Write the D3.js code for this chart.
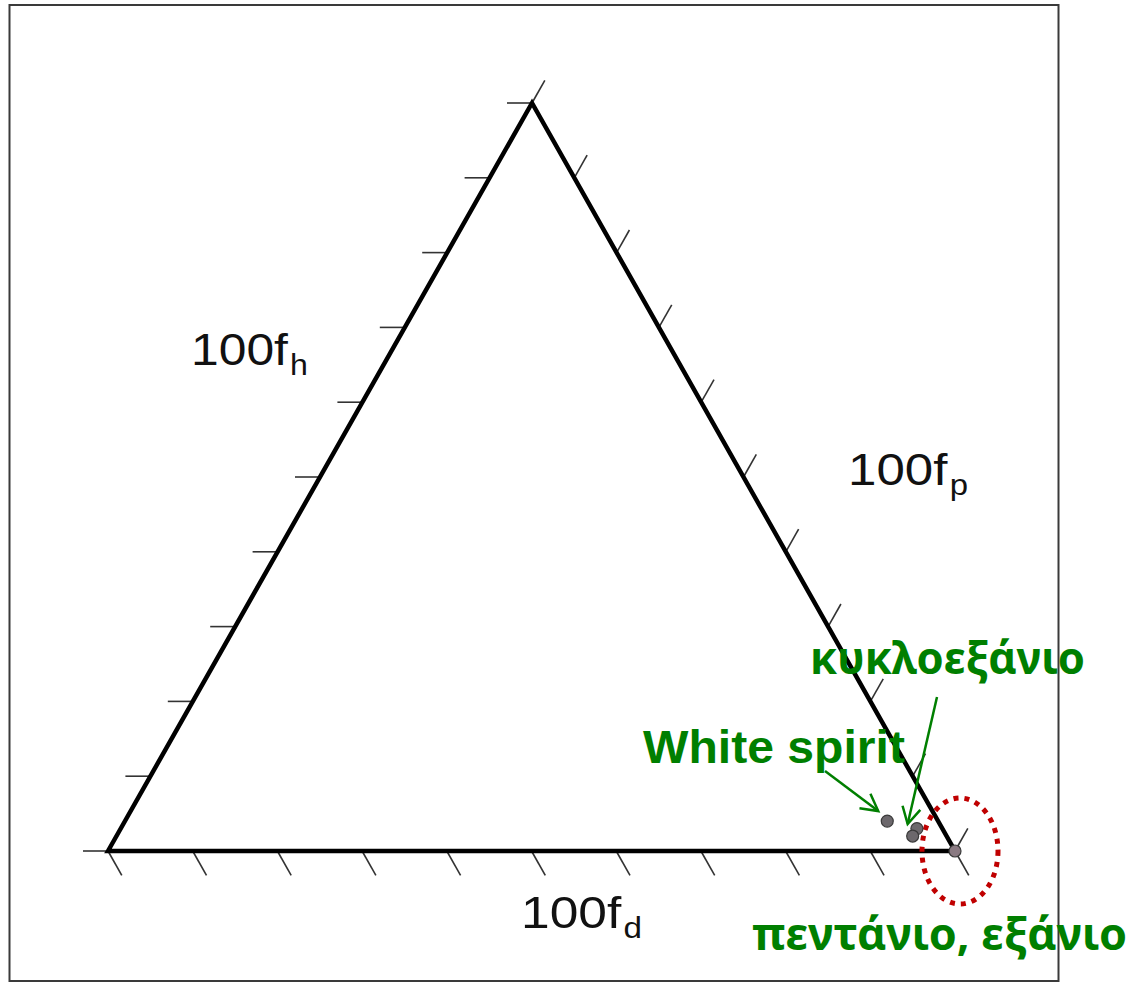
<!DOCTYPE html>
<html>
<head>
<meta charset="utf-8">
<script src="https://cdn.jsdelivr.net/npm/d3@7"></script>
<style>
  html, body { margin: 0; padding: 0; background: #fff; }
  svg { display: block; }
</style>
</head>
<body>
<svg id="chart" width="1137" height="983"></svg>
<script>
// Solvent positions in the fd / fp / fh triangle (percent)
const solvents = ["White spirit", "κυκλοεξάνιο", "κυκλοεξάνιο", "πεντάνιο, εξάνιο"];
const fdValues = [90, 94, 94, 100];
const fpValues = [6, 3, 4, 0];
const fhValues = [4, 3, 2, 0];

// Axis names and tick values (every 10 %)
const axisNames = ["d", "p", "h"];
const tickValues = d3.range(0, 101, 10);

// Annotation labels and the solvent each arrow points to
const labelTexts = ["White spirit", "κυκλοεξάνιο", "πεντάνιο, εξάνιο"];
const labelTargets = [0, 2, 3];

const svg = d3.select("#chart");

// Triangle corners: fp = 100 bottom-left, fh = 100 top, fd = 100 bottom-right
const P = [108, 851], Hc = [532, 103], D = [955, 851];

// Ternary projection built on a linear percent scale
const frac = d3.scaleLinear().domain([0, 100]).range([0, 1]);
function project(fd, fp, fh) {
  const a = frac(fd), b = frac(fp), c = frac(fh);
  return [a * D[0] + b * P[0] + c * Hc[0], a * D[1] + b * P[1] + c * Hc[1]];
}

// outer frame
svg.append("rect")
  .attr("x", 9.5).attr("y", 5).attr("width", 1049).attr("height", 976)
  .attr("fill", "#fff").attr("stroke", "#3a3a3a").attr("stroke-width", 2);

const g = svg.append("g");

// Ticks along each edge
const unit = (p, q) => { const dx = q[0] - p[0], dy = q[1] - p[1], l = Math.hypot(dx, dy); return [dx / l, dy / l]; };
const dirBottom = unit(Hc, D);   // bottom ticks parallel to right edge
const dirRight = unit(P, Hc);    // right ticks parallel to left edge
const dirLeft = [-1, 0];         // left ticks horizontal

const tickSets = [
  { vals: tickValues, pos: v => project(v, 100 - v, 0), dir: dirBottom, len: 28 },
  { vals: tickValues, pos: v => project(100 - v, 0, v), dir: dirRight, len: 26 },
  { vals: tickValues, pos: v => project(0, 100 - v, v), dir: dirLeft, len: 25 }
];
tickSets.forEach(ts => {
  g.append("g").selectAll("line").data(ts.vals).join("line")
    .attr("x1", d => ts.pos(d)[0])
    .attr("y1", d => ts.pos(d)[1])
    .attr("x2", d => ts.pos(d)[0] + ts.dir[0] * ts.len)
    .attr("y2", d => ts.pos(d)[1] + ts.dir[1] * ts.len)
    .attr("stroke", "#333").attr("stroke-width", 1.6);
});

// Triangle outline
g.append("path")
  .attr("d", d3.line()([P, Hc, D, P]) + "Z")
  .attr("fill", "none").attr("stroke", "#000").attr("stroke-width", 4.5)
  .attr("stroke-linejoin", "miter");

// Axis titles 100f_x
const titlePos = [[521, 928], [848, 485], [191, 365]];
const titleWidths = [121, 120, 117];
axisNames.forEach((n, i) => {
  const t = g.append("text")
    .attr("x", titlePos[i][0]).attr("y", titlePos[i][1])
    .attr("font-family", "'Liberation Sans', Arial, sans-serif")
    .attr("font-size", 45).attr("fill", "#111")
    .attr("textLength", titleWidths[i]).attr("lengthAdjust", "spacingAndGlyphs");
  t.append("tspan").text("100f");
  t.append("tspan").attr("font-size", 29).attr("dy", 10).attr("dx", 2).text(n);
});

// Solvent markers
const pts = solvents.map((s, i) => project(fdValues[i], fpValues[i], fhValues[i]));

// Red dotted ring around the pure-dispersion corner
g.append("ellipse")
  .attr("cx", pts[3][0] + 5).attr("cy", pts[3][1])
  .attr("rx", 38).attr("ry", 53)
  .attr("fill", "none").attr("stroke", "#c00000").attr("stroke-width", 5)
  .attr("stroke-dasharray", "5 6");

g.append("g").selectAll("circle").data(pts).join("circle")
  .attr("cx", d => d[0]).attr("cy", d => d[1]).attr("r", 6)
  .attr("fill", (d, i) => i === 3 ? "#8a7a82" : "#6c686c")
  .attr("stroke", "#3a3a3a").attr("stroke-width", 1.2);

// Arrows from the labels to the markers
const green = "#007f00";
const arrowStarts = [[825, 771], [937, 697]];
const arrowTipOffsets = [[-9, -10], [-5, -12]];
function arrowHead(from, to, len, ang) {
  const a = Math.atan2(to[1] - from[1], to[0] - from[0]);
  const w1 = [to[0] - len * Math.cos(a - ang), to[1] - len * Math.sin(a - ang)];
  const w2 = [to[0] - len * Math.cos(a + ang), to[1] - len * Math.sin(a + ang)];
  return d3.line()([w1, to, w2]);
}
arrowStarts.forEach((s, i) => {
  const p = pts[labelTargets[i]];
  const tip = [p[0] + arrowTipOffsets[i][0], p[1] + arrowTipOffsets[i][1]];
  g.append("line")
    .attr("x1", s[0]).attr("y1", s[1]).attr("x2", tip[0]).attr("y2", tip[1])
    .attr("stroke", green).attr("stroke-width", 2.5);
  g.append("path").attr("d", arrowHead(s, tip, 19, 0.5))
    .attr("fill", "none").attr("stroke", green).attr("stroke-width", 2.5);
});

// Green annotation labels
const labelPos = [[643, 763], [810, 674], [752, 950]];
const labelWidths = [262, 275, 375];
const labelFonts = ["'Liberation Sans', Arial, sans-serif", "'Noto Sans', sans-serif", "'Noto Sans', sans-serif"];
const labelSizes = [47, 45, 45];
g.append("g").selectAll("text").data(labelTexts).join("text")
  .attr("x", (d, i) => labelPos[i][0]).attr("y", (d, i) => labelPos[i][1])
  .attr("font-family", (d, i) => labelFonts[i])
  .attr("font-weight", "bold").attr("font-size", (d, i) => labelSizes[i])
  .attr("textLength", (d, i) => labelWidths[i]).attr("lengthAdjust", "spacingAndGlyphs")
  .attr("fill", green)
  .text(d => d);
</script>
</body>
</html>
